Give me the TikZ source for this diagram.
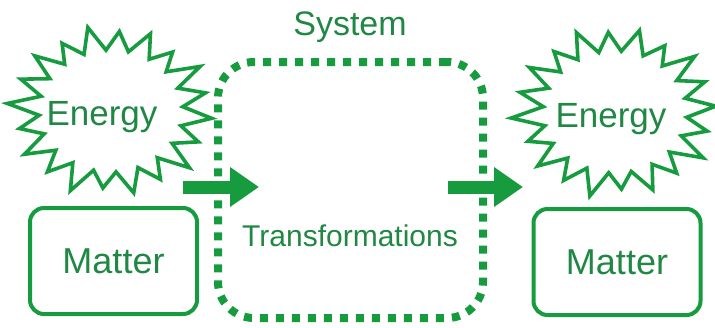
\documentclass[tikz,border=0pt]{standalone}
\usepackage{fontspec}
\setmainfont{Liberation Sans}
\usetikzlibrary{arrows.meta}
\definecolor{grn}{RGB}{22,155,62}
\definecolor{txt}{RGB}{32,135,68}
\tikzset{
  lbl/.style={text=txt, inner sep=0pt, anchor=base},
  burst/.style={draw=grn, line width=3.6pt, line join=miter, miter limit=10},
  matterbox/.style={draw=grn, line width=4pt, rounded corners=14pt, minimum width=167pt, minimum height=106pt, inner sep=0pt, text=txt, font=\fontsize{36}{40}\selectfont},
  sysbox/.style={draw=grn, line width=8pt, dash pattern=on 8pt off 8pt, rounded corners=36pt, minimum width=265pt, minimum height=256pt, inner sep=0pt},
  fatarrow/.style={draw=grn, line width=13pt, -{Triangle[length=29pt,width=38pt]}}
}
\newcommand{\burstpath}[3]{% center x, center y, offset angle
  \draw[burst, shift={(#1,#2)}]
    ({72*cos(#3-9)},{61*sin(#3-9)})
    \foreach \k/\j in {0/1.00,1/0.94,2/1.03,3/0.95,4/1.00,5/0.92,6/1.03,7/0.96,8/1.00,9/0.93,10/1.03,11/0.97,12/1.00,13/0.94,14/1.02,15/0.95,16/1.00,17/0.93,18/1.03,19/0.96}{
      -- ({101*\j*cos(#3+\k*18)},{84*\j*sin(#3+\k*18)})
      -- ({72*cos(#3+\k*18+9)},{61*sin(#3+\k*18+9)})
    } -- cycle;
}
\begin{document}
\begin{tikzpicture}[x=1pt,y=-1pt]
\useasboundingbox (0,0) rectangle (715,327);
% system
\node[sysbox] (sys) at (350.5,190) {};
\node[lbl, font=\fontsize{34}{38}\selectfont] (systxt) at (350,35) {System};
\node[lbl, font=\fontsize{30}{34}\selectfont] (trans) at (350,246) {Transformations};
% left side
\burstpath{111}{111}{5}
\node[lbl, font=\fontsize{35}{40}\selectfont] (e1) at (102,125) {Energy};
\node[matterbox] (m1) at (113.5,261) {Matter};
% right side
\burstpath{615}{112}{-4}
\node[lbl, font=\fontsize{35}{40}\selectfont] (e2) at (611,127) {Energy};
\node[matterbox] (m2) at (617,262) {Matter};
% arrows
\coordinate (a1s) at (183,187);
\coordinate (a1e) at (259,187);
\coordinate (a2s) at (448,187);
\coordinate (a2e) at (523,187);
\draw[fatarrow] (a1s) -- (a1e);
\draw[fatarrow] (a2s) -- (a2e);
\end{tikzpicture}
\end{document}
